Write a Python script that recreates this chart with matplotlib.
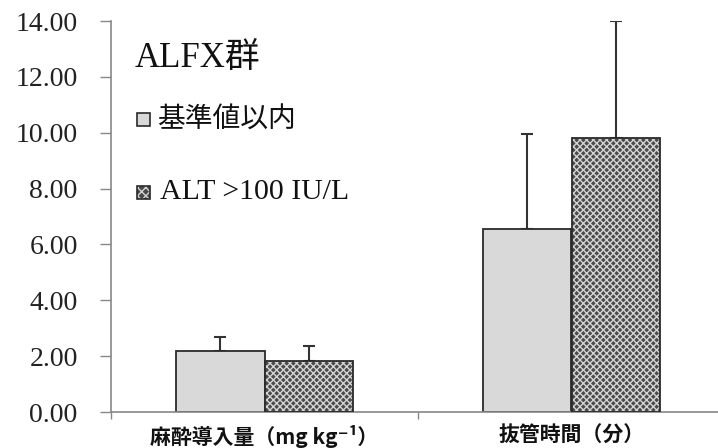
import matplotlib
matplotlib.use("Agg")
import matplotlib.pyplot as plt
from matplotlib.patches import Rectangle
import numpy as np

categories = ["麻酔導入量（mg kg⁻¹）", "抜管時間（分）"]
series_names = ["基準値以内", "ALT >100 IU/L"]
normal_mean = [2.18, 6.55]
normal_sd = [0.52, 3.40]
high_mean = [1.83, 9.81]
high_sd = [0.53, 4.19]
title_text = "ALFX群"
yticks = [0, 2, 4, 6, 8, 10, 12, 14]

plt.rcParams['hatch.linewidth'] = 1.0

W, H = 718, 448
fig = plt.figure(figsize=(W / 100, H / 100), dpi=100)
ax = fig.add_axes([111 / W, (H - 412) / H, 614 / W, 391 / H])

x = np.arange(len(categories))
bw = 0.287
light = '#d9d9d9'
dark = '#4a4a4a'
hatch_col = '#d4d4d4'
edge = '#2a2a2a'

ax.bar(x - bw / 2, normal_mean, bw, color=light, edgecolor=edge, linewidth=1.3, zorder=2)
# hatched bar: fill + light hatch, then outline
ax.bar(x + bw / 2, high_mean, bw, color=dark, edgecolor=hatch_col, hatch='xxxxx', linewidth=0, zorder=2)
ax.bar(x + bw / 2, high_mean, bw, fill=False, edgecolor=edge, linewidth=1.3, zorder=3)

ax.errorbar(x - bw / 2, normal_mean, yerr=[np.zeros(len(x)), normal_sd], fmt='none',
            ecolor='#333333', elinewidth=1.5, capsize=4.5, capthick=1.5, zorder=1)
ax.errorbar(x + bw / 2, high_mean, yerr=[np.zeros(len(x)), high_sd], fmt='none',
            ecolor='#333333', elinewidth=1.5, capsize=4.5, capthick=1.5, zorder=1)

ax.set_xlim(-0.5, 1.5)
ax.set_ylim(0, 14)
ax.set_yticks(yticks)
ax.set_yticklabels([f"{v:.2f}" for v in yticks], family=['Liberation Serif', 'DejaVu Serif'],
                   fontsize=20, color='#222222')
ax.tick_params(axis='y', direction='out', length=8, width=1, color='#888888', pad=16)

ax.set_xticks(x)
ax.set_xticklabels(categories, family=['Noto Sans CJK JP', 'DejaVu Sans'], fontsize=15,
                   fontweight='bold', color='#111111')
ax.tick_params(axis='x', which='major', length=0, pad=9)
ax.set_xticks([-0.5, 0.5], minor=True)
ax.tick_params(axis='x', which='minor', direction='out', length=5, width=1, color='#888888')

for s in ['top', 'right']:
    ax.spines[s].set_visible(False)
for s in ['left', 'bottom']:
    ax.spines[s].set_color('#888888')
    ax.spines[s].set_linewidth(1.2)

# title and legend
fig.text(135 / W, 1 - 59 / H, title_text, family=['Liberation Serif', 'Noto Sans CJK JP'],
         fontsize=25, va='center', ha='left', color='#111111')

sq = 13
fig.patches.append(Rectangle((137 / W, 1 - (120 + sq / 2) / H), sq / W, sq / H,
                             transform=fig.transFigure, facecolor=light, edgecolor=edge,
                             linewidth=1.2, figure=fig))
fig.text(157 / W, 1 - 120 / H, series_names[0], family=['Noto Sans CJK JP', 'DejaVu Sans'],
         fontsize=20, va='center', ha='left', color='#111111')

fig.patches.append(Rectangle((137 / W, 1 - (192 + sq / 2) / H), sq / W, sq / H,
                             transform=fig.transFigure, facecolor=dark, edgecolor=hatch_col,
                             hatch='xxxx', linewidth=0, figure=fig))
fig.patches.append(Rectangle((137 / W, 1 - (192 + sq / 2) / H), sq / W, sq / H,
                             transform=fig.transFigure, fill=False, edgecolor=edge,
                             linewidth=1.2, figure=fig))
fig.text(160 / W, 1 - 192 / H, series_names[1], family=['Liberation Serif', 'DejaVu Serif'],
         fontsize=21.5, va='center', ha='left', color='#111111')

fig.savefig("out.png", dpi=100)
